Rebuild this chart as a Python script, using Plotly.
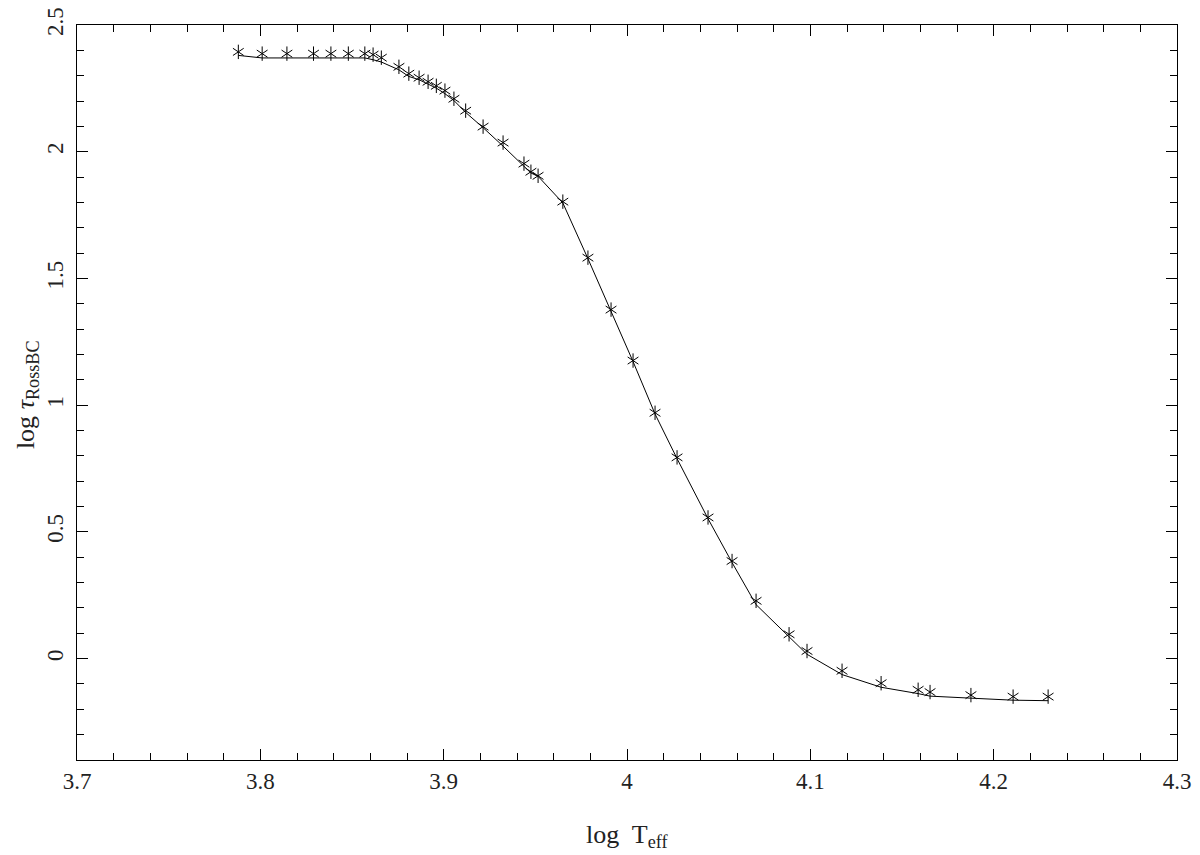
import plotly.graph_objects as go

# log Teff of the models
log_teff = [3.788, 3.801, 3.8145, 3.829, 3.8385, 3.848, 3.857, 3.8615, 3.866, 3.8756,
            3.881, 3.8866, 3.8915, 3.896, 3.9007, 3.9056, 3.912, 3.9215, 3.9324, 3.9438,
            3.9476, 3.9515, 3.965, 3.9787, 3.9913, 4.0033, 4.0153, 4.0273, 4.0442, 4.0573,
            4.0704, 4.0884, 4.0982, 4.1173, 4.1386, 4.1588, 4.1653, 4.1876, 4.2106, 4.2297]

# log tau_RossBC, model points (asterisks)
tau_points = [2.394, 2.387, 2.387, 2.387, 2.387, 2.387, 2.387, 2.383, 2.371, 2.335,
              2.308, 2.292, 2.276, 2.260, 2.241, 2.209, 2.162, 2.099, 2.036, 1.953,
              1.921, 1.905, 1.803, 1.582, 1.377, 1.176, 0.970, 0.794, 0.557, 0.385,
              0.228, 0.096, 0.030, -0.048, -0.097, -0.123, -0.132, -0.144, -0.150, -0.150]

# log tau_RossBC, fitted relation (line)
tau_fit = [2.380, 2.370, 2.370, 2.370, 2.370, 2.370, 2.370, 2.363, 2.354, 2.323,
           2.297, 2.284, 2.267, 2.251, 2.229, 2.202, 2.155, 2.095, 2.022, 1.942,
           1.916, 1.903, 1.798, 1.578, 1.373, 1.172, 0.965, 0.789, 0.552, 0.379,
           0.213, 0.085, 0.017, -0.063, -0.113, -0.138, -0.148, -0.156, -0.164, -0.166]

x_ticks = [3.7, 3.8, 3.9, 4.0, 4.1, 4.2, 4.3]
x_labels = ["3.7", "3.8", "3.9", "4", "4.1", "4.2", "4.3"]
y_ticks = [0, 0.5, 1, 1.5, 2, 2.5]
y_labels = ["0", "0.5", "1", "1.5", "2", "2.5"]

FONT = "Liberation Serif"
TXT = "#222"

fig = go.Figure()
fig.add_trace(go.Scatter(x=log_teff, y=tau_fit, mode="lines",
                         line=dict(color="black", width=1), showlegend=False))
# six-armed asterisk = two overlaid three-armed markers
for sym in ["y-up-open", "y-down-open"]:
    fig.add_trace(go.Scatter(x=log_teff, y=tau_points, mode="markers",
                             marker=dict(symbol=sym, size=9,
                                         line=dict(color="black", width=1), color="black"),
                             showlegend=False))

axis_common = dict(
    showgrid=False, zeroline=False, showline=True, linecolor="black", linewidth=1,
    mirror="allticks", ticks="inside", ticklen=11, tickwidth=1, tickcolor="black",
    tickfont=dict(family=FONT, size=23, color=TXT), automargin=False,
    ticklabeloverflow="allow",
)

fig.update_xaxes(range=[3.7, 4.3], tickvals=x_ticks, ticktext=x_labels, ticklabelstandoff=0,
                 minor=dict(dtick=0.02, ticks="inside", ticklen=7, tickcolor="black", tickwidth=1, showgrid=False),
                 **axis_common)
fig.update_yaxes(range=[-0.4, 2.5], tickvals=y_ticks, ticktext=y_labels, tickangle=-90,
                 ticklabelstandoff=4,
                 minor=dict(dtick=0.1, ticks="inside", ticklen=7, tickcolor="black", tickwidth=1, showgrid=False),
                 **axis_common)

fig.add_annotation(text="log  T<sub>eff</sub>", xref="paper", yref="paper", x=0.5, y=-0.103,
                   xanchor="center", yanchor="middle", showarrow=False,
                   font=dict(family=FONT, size=26, color=TXT))
fig.add_annotation(text="log <i>τ</i><sub>RossBC</sub>", xref="paper", yref="paper", x=-0.046, y=0.497,
                   xanchor="center", yanchor="middle", textangle=-90, showarrow=False,
                   font=dict(family=FONT, size=26, color=TXT))

# page body has an 8px default margin; size the figure so the plot frame lands
# at x 77..1177, y 25..760 in the 1200x855 window
fig.update_layout(
    width=1192, height=847,
    margin=dict(l=69, r=23, t=17, b=95),
    plot_bgcolor="white", paper_bgcolor="white",
)

fig.write_html("out.html")
